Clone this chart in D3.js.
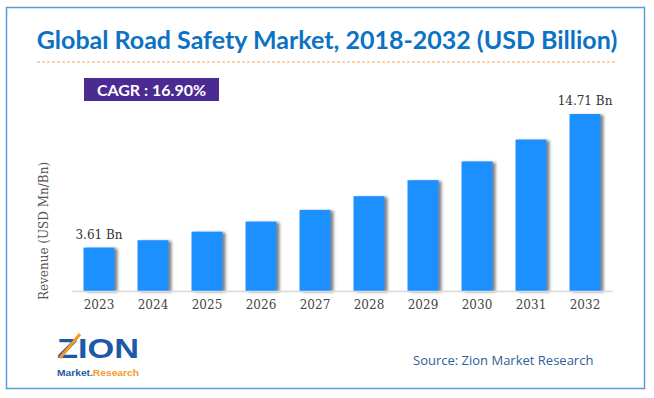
<!DOCTYPE html>
<html>

<head>
    <title>Global Road Safety Market</title>
    <script type="text/javascript" src="https://cdn.jsdelivr.net/npm/d3@7/dist/d3.min.js"></script>
    <style type="text/css">
        body { margin: 0; background: #fff; }
    </style>
</head>

<body>
    <svg width="654" height="398"></svg>
</body>

<script type="text/javascript">
    // values
    let years = ["2023", "2024", "2025", "2026", "2027", "2028", "2029", "2030", "2031", "2032"];
    let revenue = [3.61, 4.22, 4.93, 5.77, 6.74, 7.88, 9.21, 10.77, 12.59, 14.71];
    let valueLabels = ["3.61 Bn", "", "", "", "", "", "", "", "", "14.71 Bn"];
    let cagr = "CAGR : 16.90%";

    let svg = d3.select("svg");

    // drop shadow on the right of each bar
    let defs = svg.append("defs");
    let f = defs.append("filter").attr("id", "shadow")
        .attr("x", "-20%").attr("y", "-10%").attr("width", "160%").attr("height", "120%");
    f.append("feDropShadow").attr("dx", 3).attr("dy", 1).attr("stdDeviation", 1.5)
        .attr("flood-color", "#555").attr("flood-opacity", 0.75);

    // frame
    svg.append("rect").attr("x", 6.5).attr("y", 7.5).attr("width", 638).attr("height", 381)
        .attr("fill", "none").attr("stroke", "#5b9bd5").attr("stroke-width", 1.5);

    // title
    svg.append("text").attr("x", 327).attr("y", 49).attr("text-anchor", "middle")
        .attr("font-family", "Lato").attr("font-weight", "bold").attr("font-size", 25)
        .attr("fill", "#0b72c4").text("Global Road Safety Market, 2018-2032 (USD Billion)");

    svg.append("line").attr("x1", 37).attr("x2", 617).attr("y1", 62).attr("y2", 62)
        .attr("stroke", "#f4a460").attr("stroke-width", 1.2).attr("stroke-dasharray", "3,2");

    // CAGR box
    svg.append("rect").attr("x", 84).attr("y", 78).attr("width", 135).attr("height", 23)
        .attr("fill", "#4b2b92");
    svg.append("text").attr("x", 151.5).attr("y", 95.5).attr("text-anchor", "middle")
        .attr("font-family", "Lato").attr("font-weight", "bold").attr("font-size", 16)
        .attr("fill", "#fff").text(cagr);

    // scales
    let x = d3.scaleBand().domain(years).range([72, 612]).paddingInner(0.426).paddingOuter(0.213);
    let y = d3.scaleLinear().domain([0, 14.71]).range([291, 114]);

    let g = svg.append("g");
    g.selectAll("rect").data(revenue).enter().append("rect")
        .attr("x", function(d, i) { return x(years[i]); })
        .attr("y", function(d) { return y(d); })
        .attr("width", x.bandwidth())
        .attr("height", function(d) { return y(0) - y(d); })
        .attr("fill", "#1e90ff")
        .attr("filter", "url(#shadow)");

    // x axis
    let xAxis = svg.append("g").attr("transform", "translate(0,291)")
        .call(d3.axisBottom(x).tickSize(0).tickPadding(9));
    xAxis.select(".domain").attr("stroke", "#d9d9d9").attr("stroke-width", 1.5);
    xAxis.selectAll("text").attr("font-family", "DejaVu Serif").attr("font-size", 12)
        .attr("fill", "#444");

    // value labels
    svg.selectAll(".vlab").data(revenue).enter().append("text")
        .attr("class", "vlab")
        .attr("x", function(d, i) { return x(years[i]) + x.bandwidth() / 2; })
        .attr("y", function(d) { return y(d) - 9; })
        .attr("text-anchor", "middle")
        .attr("font-family", "DejaVu Serif").attr("font-size", 12).attr("fill", "#333")
        .text(function(d, i) { return valueLabels[i]; });

    // y title
    svg.append("text").attr("transform", "translate(48,231) rotate(-90)")
        .attr("text-anchor", "middle").attr("font-family", "DejaVu Serif").attr("font-size", 12)
        .attr("fill", "#555").text("Revenue (USD Mn/Bn)");

    // source
    svg.append("text").attr("x", 413).attr("y", 365)
        .attr("font-family", "Open Sans").attr("font-size", 13).attr("fill", "#2e6099")
        .text("Source: Zion Market Research");

    // logo (text approximation)
    let logo = svg.append("g");
    logo.append("text").attr("x", 57).attr("y", 358)
        .attr("font-family", "Liberation Sans").attr("font-weight", "bold").attr("font-size", 27)
        .attr("fill", "#1c5aa6").attr("textLength", 82).attr("lengthAdjust", "spacingAndGlyphs")
        .text("ZION");
    logo.append("line").attr("x1", 60).attr("y1", 358).attr("x2", 80).attr("y2", 334)
        .attr("stroke", "#f39a1e").attr("stroke-width", 3);
    logo.append("text").attr("x", 57).attr("y", 376)
        .attr("font-family", "Liberation Sans").attr("font-weight", "bold").attr("font-size", 9)
        .attr("textLength", 82).attr("lengthAdjust", "spacingAndGlyphs")
        .call(function(t) {
            t.append("tspan").attr("fill", "#1c5aa6").text("Market.");
            t.append("tspan").attr("fill", "#f39a1e").text("Research");
        });
</script>

</html>
